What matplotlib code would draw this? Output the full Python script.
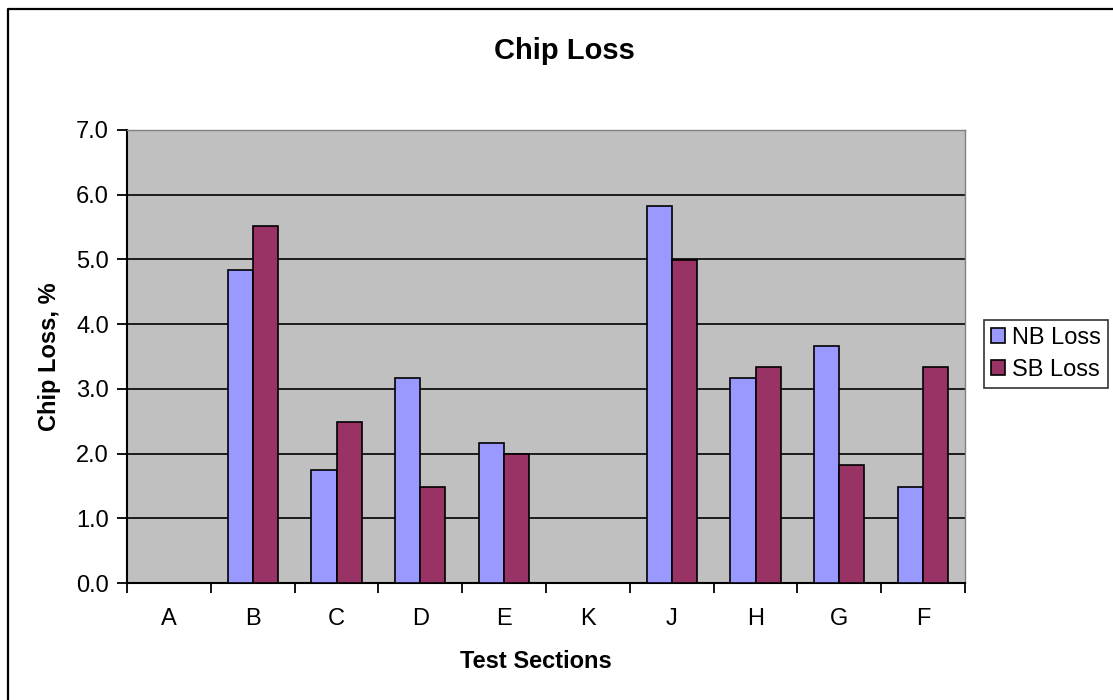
import matplotlib.pyplot as plt
import numpy as np
from matplotlib.lines import Line2D

sections = ['A', 'B', 'C', 'D', 'E', 'K', 'J', 'H', 'G', 'F']
nb_loss = [0.0, 4.83, 1.75, 3.17, 2.17, 0.0, 5.83, 3.17, 3.66, 1.48]
sb_loss = [0.0, 5.52, 2.49, 1.48, 2.0, 0.0, 4.99, 3.34, 1.83, 3.34]

plt.rcParams['font.family'] = ['Liberation Sans', 'DejaVu Sans']

W, H = 1113, 700
fig = plt.figure(figsize=(W / 100, H / 100), dpi=100)

# outer chart border: only left and top edges show in the reference
fig.lines.append(Line2D([7.5 / W, 7.5 / W, 1.0], [0.0, 1 - 8.5 / H, 1 - 8.5 / H],
                        transform=fig.transFigure, color='black', linewidth=1.6))

ax = fig.add_axes([127 / W, 1 - 583 / H, (965 - 127) / W, (583 - 130) / H])
ax.set_facecolor('#C0C0C0')

x = np.arange(len(sections))
w = 0.3
ax.bar(x - w / 2, nb_loss, w, color='#9999FF', edgecolor='black', linewidth=1.2,
       label='NB Loss', zorder=3)
ax.bar(x + w / 2, sb_loss, w, color='#993366', edgecolor='black', linewidth=1.2,
       label='SB Loss', zorder=3)

ax.set_xlim(-0.5, len(sections) - 0.5)
ax.set_ylim(0, 7)
yt = np.arange(0, 7.1, 1.0)
ax.set_yticks(yt)
ax.set_yticklabels(['%.1f' % v for v in yt], fontsize=17)
ax.yaxis.grid(True, color='black', linewidth=1.2, zorder=1)
ax.set_axisbelow(True)

ax.set_xticks(np.arange(-0.5, len(sections), 1.0))
ax.set_xticklabels([])
ax.set_xticks(x, minor=True)
ax.set_xticklabels(sections, minor=True, fontsize=17)
ax.tick_params(axis='x', which='major', direction='out', length=7, width=1.3)
ax.tick_params(axis='x', which='minor', length=0, pad=18)
ax.tick_params(axis='y', direction='out', length=7, width=1.3, pad=6)

for s in ['top', 'right']:
    ax.spines[s].set_color('#808080')
    ax.spines[s].set_linewidth(1)
for s in ['left', 'bottom']:
    ax.spines[s].set_color('black')
    ax.spines[s].set_linewidth(1.5)

fig.text(536 / W, 1 - 662 / H, 'Test Sections', ha='center', va='center',
         fontsize=17, fontweight='bold')
fig.text(50 / W, 1 - 357 / H, 'Chip Loss, %', ha='center', va='center',
         rotation=90, fontsize=17, fontweight='bold')
fig.text(564 / W, 1 - 51 / H, 'Chip Loss', ha='center', va='center',
         fontsize=21, fontweight='bold')

leg = fig.legend(loc='center left', bbox_to_anchor=(984 / W, 1 - 354 / H),
                 fontsize=17, frameon=True, fancybox=False, edgecolor='black',
                 handlelength=0.6, handleheight=0.6, handletextpad=0.3,
                 borderpad=0.3, labelspacing=0.4, borderaxespad=0)
leg.get_frame().set_linewidth(1.2)

fig.savefig('out.png', dpi=100)
